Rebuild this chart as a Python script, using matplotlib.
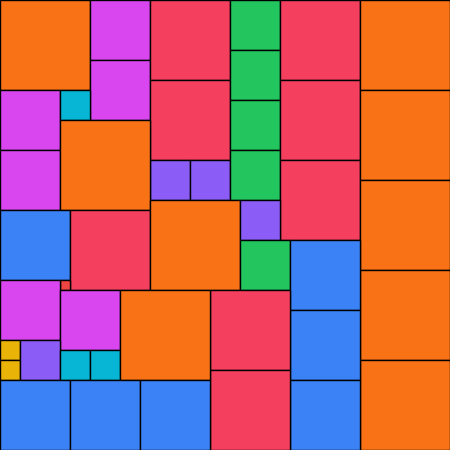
import matplotlib
matplotlib.use("Agg")
import matplotlib.pyplot as plt
from matplotlib.patches import Rectangle

# Partridge packing of order 9: n squares of side n, in a 45x45 square
sizes = [9, 6, 6, 8, 8, 4, 4, 5, 5, 5, 5, 8, 8, 8, 9, 9, 9, 9, 9,
         6, 6, 3, 9, 7, 8, 1, 9, 4, 5, 7, 7, 7, 8, 8,
         6, 6, 2, 2, 4, 3, 3, 9, 7, 7, 7]
xs = [0, 9, 9, 15, 15, 15, 19, 23, 23, 23, 23, 28, 28, 28, 36, 36, 36, 36, 36,
      0, 0, 6, 6, 0, 7, 6, 15, 24, 24, 29, 29, 29, 21, 21,
      0, 6, 0, 0, 2, 6, 9, 12, 0, 7, 14]
ys = [0, 0, 6, 0, 8, 16, 16, 0, 5, 10, 15, 0, 8, 16, 0, 9, 18, 27, 36,
      9, 15, 9, 12, 21, 21, 28, 20, 20, 24, 24, 31, 38, 29, 37,
      28, 29, 34, 36, 34, 35, 35, 29, 38, 38, 38]

size_colors = {1: "#ef4444", 2: "#eab308", 3: "#06b6d4", 4: "#8b5cf6",
               5: "#22c55e", 6: "#d946ef", 7: "#3b82f6", 8: "#f43f5e",
               9: "#f97316"}

fig = plt.figure(figsize=(4.5, 4.5), dpi=100)
ax = fig.add_axes([0, 0, 1, 1])
for x, y, s in zip(xs, ys, sizes):
    ax.add_patch(Rectangle((x, y), s, s, facecolor=size_colors[s],
                           edgecolor="black", linewidth=1.0))
ax.set_xlim(0, 45)
ax.set_ylim(45, 0)
ax.axis("off")
fig.savefig("out.png", dpi=100)
